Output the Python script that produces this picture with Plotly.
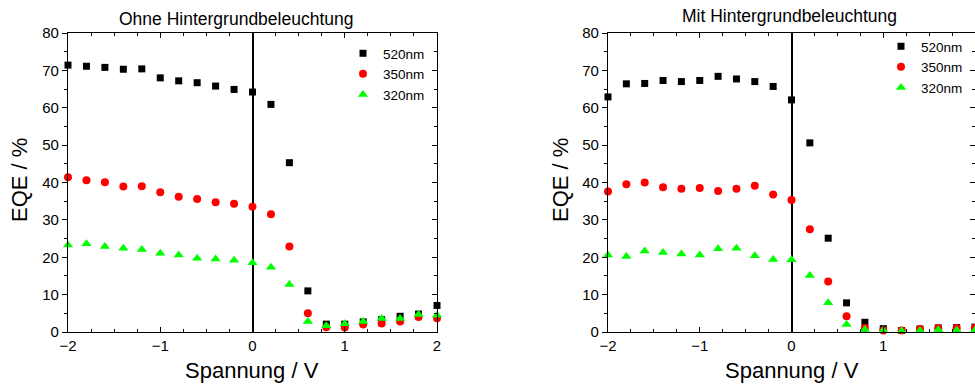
import plotly.graph_objects as go

# ---------------- data ----------------
spannung = [-2.0, -1.8, -1.6, -1.4, -1.2, -1.0, -0.8, -0.6, -0.4, -0.2, 0.0,
            0.2, 0.4, 0.6, 0.8, 1.0, 1.2, 1.4, 1.6, 1.8, 2.0]

# Ohne Hintergrundbeleuchtung
ohne_520 = [71.4, 71.1, 70.8, 70.3, 70.4, 68.0, 67.2, 66.7, 65.8, 64.9, 64.2,
            60.9, 45.3, 11.0, 2.1, 2.1, 2.7, 3.3, 4.2, 4.8, 7.1]
ohne_350 = [41.4, 40.6, 40.1, 38.9, 39.0, 37.4, 36.2, 35.6, 34.7, 34.3, 33.5,
            31.5, 22.9, 5.0, 1.3, 1.2, 2.0, 2.3, 2.8, 4.0, 3.7]
ohne_320 = [23.3, 23.6, 22.9, 22.4, 22.1, 21.1, 20.6, 19.7, 19.5, 19.2, 18.5,
            17.3, 12.7, 2.8, 1.7, 2.2, 2.8, 3.6, 3.6, 4.7, 4.5]

# Mit Hintergrundbeleuchtung
mit_520 = [62.9, 66.4, 66.5, 67.3, 67.0, 67.3, 68.4, 67.7, 67.0, 65.7, 62.1,
           50.6, 25.1, 7.8, 2.6, 0.9, 0.4, 0.8, 1.1, 1.2, 1.3]
mit_350 = [37.6, 39.5, 40.0, 38.7, 38.3, 38.5, 37.7, 38.3, 39.1, 36.8, 35.3,
           27.5, 13.5, 4.2, 1.1, 0.4, 0.4, 0.8, 1.0, 1.1, 1.1]
mit_320 = [20.6, 20.2, 21.7, 21.3, 20.9, 20.6, 22.3, 22.4, 20.4, 19.4, 19.3,
           15.1, 7.8, 2.0, 0.7, 0.4, 0.3, 0.4, 0.6, 0.5, 0.5]

series_names = ["520nm", "350nm", "320nm"]
titles = ["Ohne Hintergrundbeleuchtung", "Mit Hintergrundbeleuchtung"]
x_label = "Spannung / V"
y_label = "EQE / %"

# ---------------- style ----------------
W, H = 975, 385
FONT = "Liberation Sans, Arial, sans-serif"
styles = [
    dict(symbol="square", size=7, color="#000000"),
    dict(symbol="circle", size=8, color="#ff0000"),
    dict(symbol="triangle-up", size=9, color="#00ff00"),
]

fig = go.Figure()

panels = [
    dict(x="x", y="y", legend="legend", data=[ohne_520, ohne_350, ohne_320]),
    dict(x="x2", y="y2", legend="legend2", data=[mit_520, mit_350, mit_320]),
]
for p in panels:
    for name, vals, st in zip(series_names, p["data"], styles):
        fig.add_trace(go.Scatter(
            x=spannung, y=vals, mode="markers", name=name,
            xaxis=p["x"], yaxis=p["y"], legend=p["legend"],
            marker=dict(symbol=st["symbol"], size=st["size"], color=st["color"],
                        line=dict(width=0)),
            cliponaxis=False,
        ))

# empty traces to host the mirrored right-side (inside tick) axes
fig.add_trace(go.Scatter(x=[], y=[], xaxis="x", yaxis="y3", showlegend=False))
fig.add_trace(go.Scatter(x=[], y=[], xaxis="x2", yaxis="y4", showlegend=False))

y_dom = [53 / H, 352 / H]
x_doms = [[68 / W, 437 / W], [608 / W, 1.0]]

tickfont = dict(family=FONT, size=15, color="#000000")
LW = 1.3


def xaxis_cfg(dom, anchor):
    return dict(
        domain=dom, anchor=anchor, range=[-2, 2], dtick=1, tick0=0,
        ticks="inside", ticklen=5, tickwidth=1, tickcolor="#000000",
        minor=dict(dtick=0.25, ticks="inside", ticklen=3, tickwidth=1, tickcolor="#000000"),
        showline=True, linecolor="#000000", linewidth=LW, mirror="ticks",
        showgrid=False, zeroline=True, zerolinecolor="#000000", zerolinewidth=1.5,
        tickfont=tickfont, fixedrange=True, automargin=False,
    )


def yaxis_cfg(anchor):
    return dict(
        domain=y_dom, anchor=anchor, range=[0, 80], dtick=10, tick0=0,
        ticks="outside", ticklen=5, tickwidth=1, tickcolor="#000000",
        minor=dict(dtick=5, ticks="outside", ticklen=3, tickwidth=1, tickcolor="#000000"),
        showline=True, linecolor="#000000", linewidth=LW, mirror=True,
        showgrid=False, zeroline=False, tickfont=tickfont, fixedrange=True,
        automargin=False,
    )


def yaxis_right_cfg(over, anchor):
    return dict(
        overlaying=over, anchor=anchor, side="right", range=[0, 80], dtick=10, tick0=0,
        ticks="inside", ticklen=5, tickwidth=1, tickcolor="#000000",
        minor=dict(dtick=5, ticks="inside", ticklen=3, tickwidth=1, tickcolor="#000000"),
        showline=False, showgrid=False, zeroline=False, showticklabels=False,
        fixedrange=True, automargin=False,
    )


fig.update_layout(
    width=W, height=H,
    margin=dict(l=0, r=0, t=0, b=0, autoexpand=False),
    paper_bgcolor="#ffffff", plot_bgcolor="#ffffff",
    font=dict(family=FONT, color="#000000"),
    xaxis=xaxis_cfg(x_doms[0], "y"),
    yaxis=yaxis_cfg("x"),
    xaxis2=xaxis_cfg(x_doms[1], "y2"),
    yaxis2=yaxis_cfg("x2"),
    yaxis3=yaxis_right_cfg("y", "x"),
    yaxis4=yaxis_right_cfg("y2", "x2"),
    legend=dict(x=343 / W, y=1 - 38 / H, xanchor="left", yanchor="top",
                bgcolor="rgba(0,0,0,0)", font=dict(family=FONT, size=13.5),
                itemwidth=30, tracegroupgap=0),
    legend2=dict(x=881 / W, y=1 - 31 / H, xanchor="left", yanchor="top",
                 bgcolor="rgba(0,0,0,0)", font=dict(family=FONT, size=13.5),
                 itemwidth=30, tracegroupgap=0),
    showlegend=True,
)

annots = []
title_pos = [(236, 19), (789, 16)]
for t, (cx, cy) in zip(titles, title_pos):
    annots.append(dict(text=t, x=cx / W, y=1 - cy / H, xref="paper", yref="paper",
                       xanchor="center", yanchor="middle", showarrow=False,
                       font=dict(family=FONT, size=17.5, color="#000000")))
for cx in [252, 792]:
    annots.append(dict(text=x_label, x=cx / W, y=1 - 370 / H, xref="paper", yref="paper",
                       xanchor="center", yanchor="middle", showarrow=False,
                       font=dict(family=FONT, size=22, color="#000000")))
for cx in [20, 561]:
    annots.append(dict(text=y_label, x=cx / W, y=1 - 180 / H, xref="paper", yref="paper",
                       xanchor="center", yanchor="middle", showarrow=False, textangle=-90,
                       font=dict(family=FONT, size=22, color="#000000")))
fig.update_layout(annotations=annots)

fig.write_html("out.html")
